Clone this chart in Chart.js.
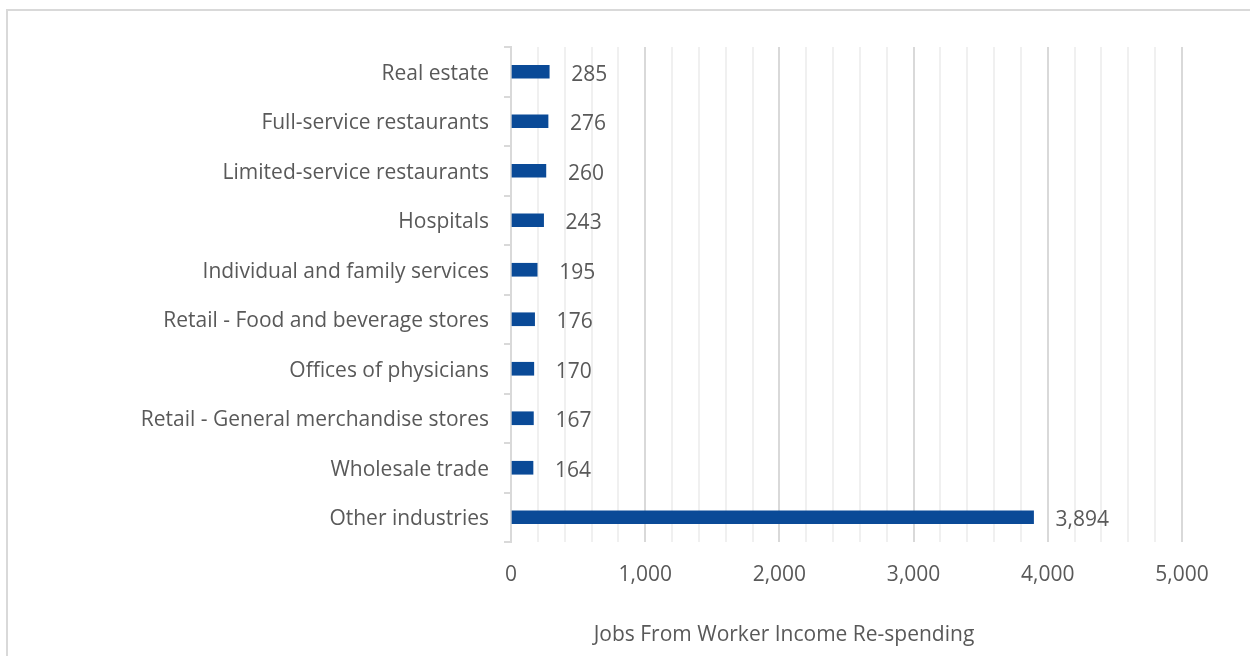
<!DOCTYPE html>
<html>
<head>
<meta charset="utf-8">
<script src="https://cdn.jsdelivr.net/npm/chart.js@4"></script>
<style>
    html, body { margin: 0; padding: 0; background: #fff; overflow: hidden; }
    #wrap { position: relative; width: 1250px; height: 656px; }
    #frame {
        position: absolute; left: 6px; top: 9px; width: 1300px; height: 700px;
        border-left: 2px solid #d9d9d9; border-top: 2px solid #d9d9d9;
    }
    canvas { position: absolute; left: 0; top: 0; }
</style>
</head>
<body>
<div id="wrap">
    <div id="frame"></div>
    <canvas id="chart-0" width="1250" height="656"></canvas>
</div>
<script>
var industries = [
    "Real estate",
    "Full-service restaurants",
    "Limited-service restaurants",
    "Hospitals",
    "Individual and family services",
    "Retail - Food and beverage stores",
    "Offices of physicians",
    "Retail - General merchandise stores",
    "Wholesale trade",
    "Other industries"
];
var jobs = [285, 276, 260, 243, 195, 176, 170, 167, 164, 3894];
var xTicks = [0, 1000, 2000, 3000, 4000, 5000];
var axisTitle = "Jobs From Worker Income Re-spending";

var textColor = "#595959";
var fontFamily = "'Open Sans', sans-serif";

// value labels to the right of each bar, plus the x axis title
var barLabels = {
    id: 'barLabels',
    afterDatasetsDraw: function (chart) {
        var ctx = chart.ctx;
        var meta = chart.getDatasetMeta(0);
        ctx.save();
        ctx.fillStyle = textColor;
        ctx.font = "21px " + fontFamily;
        ctx.textAlign = "left";
        ctx.textBaseline = "middle";
        meta.data.forEach(function (bar, i) {
            ctx.fillText(jobs[i].toLocaleString('en-US'), bar.x + 22, bar.y + 3);
        });
        ctx.textAlign = "center";
        ctx.fillText(axisTitle, 784, 635);
        ctx.restore();
    }
};

window.onload = function () {
    var ctx = document.getElementById("chart-0").getContext("2d");
    var myBar = new Chart(ctx, {
        type: 'bar',
        data: {
            labels: industries,
            datasets: [{
                data: jobs,
                backgroundColor: "#0a4a97",
                barThickness: 13,
                borderWidth: 0
            }]
        },
        options: {
            indexAxis: 'y',
            responsive: false,
            animation: false,
            layout: { padding: { top: 47, right: 68, left: 0, bottom: 0 } },
            plugins: {
                legend: { display: false },
                title: { display: false },
                tooltip: { enabled: false }
            },
            scales: {
                x: {
                    min: 0,
                    max: 5000,
                    afterFit: function (scale) { scale.height = 114; },
                    afterBuildTicks: function (scale) {
                        var t = [];
                        for (var v = 0; v <= 5000; v += 200) t.push({ value: v });
                        scale.ticks = t;
                    },
                    border: { display: false },
                    grid: {
                        drawTicks: false,
                        lineWidth: 2,
                        color: function (c) {
                            return xTicks.indexOf(c.tick.value) >= 0 ? "#d9d9d9" : "#f0f0f0";
                        }
                    },
                    ticks: {
                        autoSkip: false,
                        maxRotation: 0,
                        padding: 20,
                        color: textColor,
                        font: { family: "Open Sans", size: 21 },
                        callback: function (v) {
                            return xTicks.indexOf(v) >= 0 ? v.toLocaleString('en-US') : '';
                        }
                    }
                },
                y: {
                    afterFit: function (scale) { scale.width = 511; },
                    border: { color: "#d9d9d9", width: 2 },
                    grid: {
                        drawOnChartArea: false,
                        tickLength: 7,
                        color: "#d9d9d9",
                        lineWidth: 2
                    },
                    ticks: {
                        padding: 15,
                        labelOffset: 2,
                        color: textColor,
                        font: { family: "Open Sans", size: 21 }
                    }
                }
            }
        },
        plugins: [barLabels]
    });
};
</script>
</body>
</html>
